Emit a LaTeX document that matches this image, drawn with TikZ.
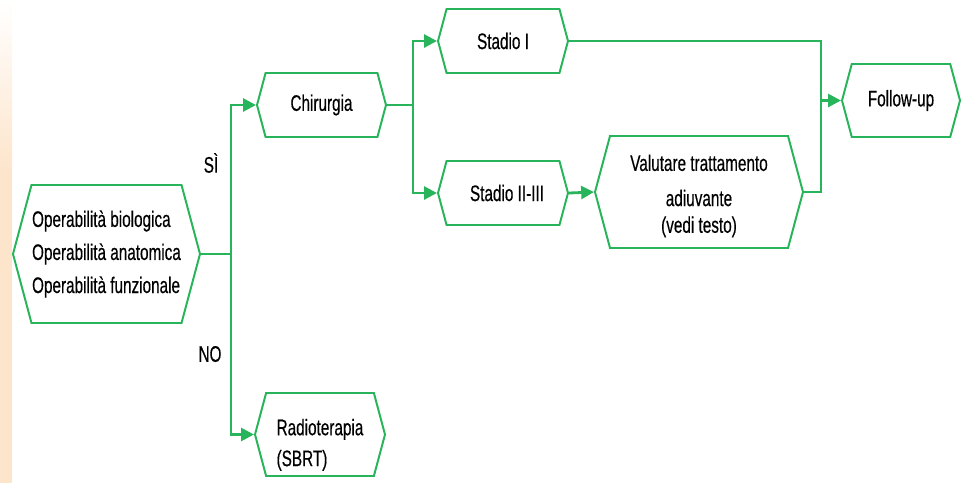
\documentclass[tikz,border=0pt]{standalone}
\usepackage{fontspec}
\setmainfont{Liberation Sans}[FakeStretch=0.68, FakeBold=0.4]
\usetikzlibrary{calc, shapes.symbols, arrows.meta}
\definecolor{fc_green}{RGB}{40,180,90}
\definecolor{fc_peach}{RGB}{253,229,204}

\begin{document}
\begin{tikzpicture}[x=0.025cm, y=-0.025cm]
\tikzstyle{fc_box}=[signal, signal to=west and east, signal pointer angle=150,
	draw=fc_green, line width=1.4pt, inner sep=0pt, text=black,
	font=\fontsize{16}{22}\selectfont]
\tikzstyle{fc_line}=[draw=fc_green, line width=2pt]
\tikzstyle{fc_arrow}=[fc_line, -{Triangle[length=0.32cm, width=0.32cm]}]

\useasboundingbox (0,0) rectangle (973,483);
\shade[top color=white, bottom color=fc_peach] (0,0) rectangle (12,170);
\fill[fc_peach] (0,170) rectangle (12,483);

\node at (106.5,254) [fc_box, minimum width=187*0.025cm, minimum height=138*0.025cm,
	align=left, font=\fontsize{16}{23.5}\selectfont] (op)
	{Operabilità biologica\\ Operabilità anatomica\\ Operabilità funzionale};
\node at (321.5,105) [fc_box, minimum width=129*0.025cm, minimum height=64*0.025cm] (chir) {Chirurgia};
\node at (503,41) [fc_box, minimum width=130*0.025cm, minimum height=64*0.025cm] (st1) {Stadio I\hspace{0.4cm}};
\node at (503,193) [fc_box, minimum width=130*0.025cm, minimum height=64*0.025cm] (st2) {\hspace{0.2cm}Stadio II-III};
\node at (699,192) [fc_box, minimum width=208*0.025cm, minimum height=112*0.025cm, align=center] (val)
	{\raisebox{-0.1cm}[\height][\depth]{Valutare trattamento}\\[3pt]
	 \raisebox{-0.1cm}[\height][\depth]{adiuvante}\\[-3pt]
	 \raisebox{-0.1cm}[\height][\depth]{(vedi testo)}};
\node at (901,100.5) [fc_box, minimum width=118*0.025cm, minimum height=73*0.025cm] (fu) {Follow-up};
\node at (320,434.5) [fc_box, minimum width=130*0.025cm, minimum height=83*0.025cm] (rt)
	{\raisebox{-0.25cm}[\height][\depth]{\begin{tabular}{@{}l@{}}Radioterapia\\ (SBRT)\end{tabular}}};

\node at (211,163) [text=black, font=\fontsize{16}{22}\selectfont] (si) {SÌ};
\node at (210,354) [text=black, font=\fontsize{16}{22}\selectfont] (no) {NO};

\coordinate (op_j) at ($(op.east)+(30,0)$);
\draw[fc_line] (op.east) -- (op_j);
\draw[fc_arrow] (op_j) |- (chir.west);
\draw[fc_arrow] (op_j) |- (rt.west);

\coordinate (chir_j) at ($(chir.east)+(26,0)$);
\draw[fc_line] (chir.east) -- (chir_j);
\draw[fc_arrow] (chir_j) |- (st1.west);
\draw[fc_arrow] (chir_j) |- (st2.west);
\draw[fc_arrow] (st2.east) -- (val.west);

\coordinate (fu_j) at ($(fu.west)+(-20,0)$);
\draw[fc_line] (st1.east) -| (fu_j);
\draw[fc_line] (val.east) -| (fu_j);
\draw[fc_arrow] (fu_j) -- (fu.west);
\end{tikzpicture}
\end{document}
